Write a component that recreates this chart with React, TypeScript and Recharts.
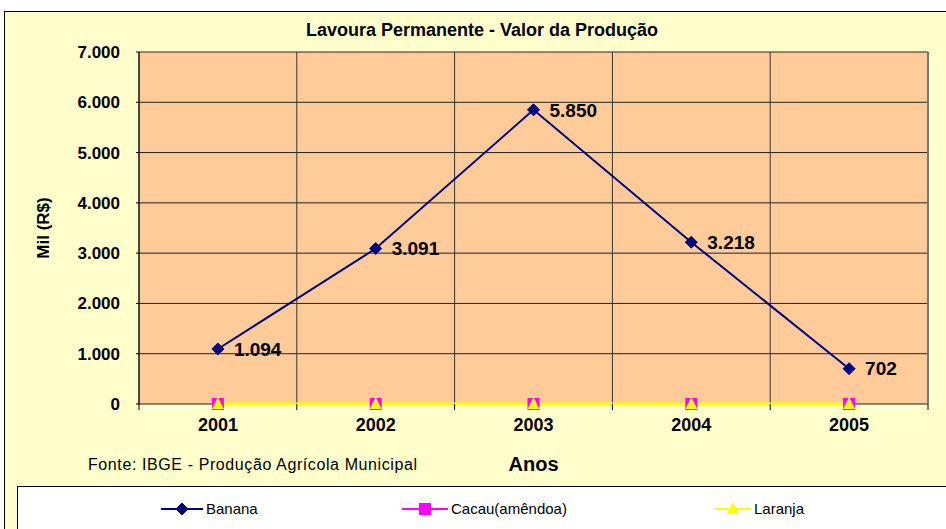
import { CartesianGrid, LabelList, Line, LineChart, ReferenceLine, XAxis, YAxis } from "recharts"

const years = [2001, 2002, 2003, 2004, 2005]
const banana = [1094, 3091, 5850, 3218, 702]
const cacau = [0, 0, 0, 0, 0]
const laranja = [0, 0, 0, 0, 0]
const yTicks = [0, 1000, 2000, 3000, 4000, 5000, 6000, 7000]

const series = [
  { key: "Banana", color: "#000080", shape: "diamond" },
  { key: "Cacau(amêndoa)", color: "#FF00FF", shape: "square" },
  { key: "Laranja", color: "#FFFF00", shape: "triangle" },
]

const data = years.map((y, i) => ({
  year: y,
  Banana: banana[i],
  "Cacau(amêndoa)": cacau[i],
  Laranja: laranja[i],
}))

// category boundaries (half a year either side of each point)
const bounds = [years[0] - 0.5, ...years.map((y) => y + 0.5)]

const fmt = (v: number) => String(v).replace(/\B(?=(\d{3})+(?!\d))/g, ".")

const font = "'Liberation Sans', Arial, sans-serif"

function marker(shape: string, color: string, cx: number, cy: number, key?: string | number) {
  if (shape === "diamond") {
    return <polygon key={key} points={`${cx},${cy - 6} ${cx + 6},${cy} ${cx},${cy + 6} ${cx - 6},${cy}`} fill={color} stroke={color} />
  }
  if (shape === "square") {
    return <rect key={key} x={cx - 6} y={cy - 6} width={12} height={12} fill={color} />
  }
  return <polygon key={key} points={`${cx},${cy - 7} ${cx + 6},${cy + 5} ${cx - 6},${cy + 5}`} fill={color} />
}

function dotFor(shape: string, color: string) {
  return (p: any) => marker(shape, color, p.cx, p.cy, p.index)
}

export default function App() {
  return (
    <div style={{ position: "absolute", left: 0, top: 0, width: 946, height: 529, background: "#fff", fontFamily: font, overflow: "hidden" }}>
      <div style={{ position: "absolute", left: 4, top: 11, width: 950, height: 530, background: "#FFFFCC", border: "1px solid #000" }} />
      <div style={{ position: "absolute", left: 0, top: 20, width: 964, textAlign: "center", fontWeight: "bold", fontSize: 18 }}>
        Lavoura Permanente - Valor da Produção
      </div>
      <div style={{ position: "absolute", left: 0, top: 0 }}>
        <LineChart width={946} height={529} data={data} margin={{ top: 52, right: 18, bottom: 55, left: 20 }}>
          <CartesianGrid fill="#FFCC99" stroke="#222" strokeOpacity={1} vertical={false} />
          <XAxis
            xAxisId="grid"
            dataKey="year"
            type="number"
            domain={[bounds[0], bounds[bounds.length - 1]]}
            ticks={bounds}
            tick={() => <g />}
            tickSize={6}
            height={6}
            axisLine={false}
            tickLine={{ stroke: "#000" }}
          />
          <XAxis
            xAxisId="lbl"
            dataKey="year"
            type="number"
            domain={[bounds[0], bounds[bounds.length - 1]]}
            ticks={years}
            axisLine={false}
            tickLine={false}
            height={64}
            tick={{ fill: "#000", fontSize: 18, fontWeight: "bold", fontFamily: font }}
            label={{ value: "Anos", position: "insideBottom", offset: 3, fill: "#000", fontSize: 20, fontWeight: "bold", fontFamily: font }}
          />
          <YAxis
            domain={[0, 7000]}
            ticks={yTicks}
            width={119}
            tickFormatter={fmt}
            tickSize={3}
            tickMargin={16}
            axisLine={{ stroke: "#000" }}
            tickLine={{ stroke: "#000" }}
            tick={{ fill: "#000", fontSize: 17, fontWeight: "bold", fontFamily: font }}
            label={{ value: "Mil (R$)", angle: -90, position: "insideLeft", offset: 23, fill: "#000", fontSize: 17, fontWeight: "bold", fontFamily: font, style: { textAnchor: "middle" } }}
          />
          {bounds.map((b, i) => (
            <ReferenceLine key={b} xAxisId="grid" x={b} stroke={i === bounds.length - 1 ? "#777" : "#333"} strokeWidth={i === bounds.length - 1 ? 2 : 1} />
          ))}
          {series.map((s) => (
            <Line
              key={s.key}
              xAxisId="grid"
              dataKey={s.key}
              stroke={s.color}
              strokeWidth={s.shape === "triangle" ? 3 : 2}
              dot={dotFor(s.shape, s.color)}
              activeDot={false}
              isAnimationActive={false}
            >
              {s.shape === "diamond" && (
                <LabelList dataKey={s.key} position="right" offset={16} formatter={(v: any) => fmt(v)} fill="#000" fontSize={19} fontWeight="bold" fontFamily={font} />
              )}
            </Line>
          ))}
        </LineChart>
      </div>
      <div style={{ position: "absolute", left: 88, top: 456, fontSize: 16, letterSpacing: 0.6 }}>Fonte: IBGE - Produção Agrícola Municipal</div>
      <div style={{ position: "absolute", left: 17, top: 486, width: 940, height: 50, background: "#fff", border: "1px solid #000" }}>
        {series.map((s, i) => (
          <div key={s.key} style={{ position: "absolute", left: [143, 384, 697][i], top: 13, display: "flex", alignItems: "center", fontSize: 15 }}>
            <svg width={[42, 46, 36][i]} height={14}>
              <line x1={0} y1={7} x2={[42, 46, 36][i]} y2={7} stroke={s.color} strokeWidth={2} />
              {marker(s.shape, s.color, [21, 23, 18][i], 7)}
            </svg>
            <span style={{ marginLeft: 3 }}>{s.key}</span>
          </div>
        ))}
      </div>
    </div>
  )
}
